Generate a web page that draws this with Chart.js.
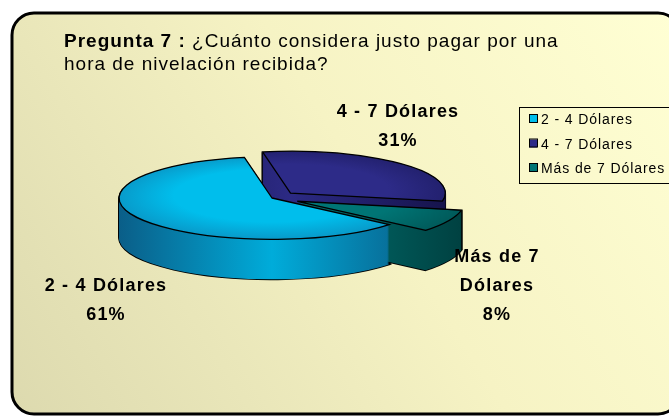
<!DOCTYPE html>
<html><head><meta charset="utf-8">
<style>html,body{margin:0;padding:0;background:#fff;}#wrap{width:669px;height:416px;position:relative;}canvas{display:block;}</style>
<script src="https://cdn.jsdelivr.net/npm/chart.js@4"></script>
</head><body>
<div id="wrap"><canvas id="c" width="669" height="416"></canvas></div>
<script>
// ---- data ----
const categories = ['2 - 4 Dólares', '4 - 7 Dólares', 'Más de 7 Dólares'];
const sliceLabels = [['2 - 4 Dólares'], ['4 - 7 Dólares'], ['Más de 7', 'Dólares']];
const percentages = [61, 31, 8];
const titleBold = 'Pregunta 7 :';
const titleRest = ' ¿Cuánto considera justo pagar por una';
const titleLine2 = 'hora de nivelación recibida?';

// ---- styles ----
const topColors = ['#00BEEC', '#2D2B88', '#007575'];
const topDark = ['#0A90C0', '#201E68', '#005A5A'];
const sideMid = ['#00ACDA', '#2C2A84', '#007272'];
const sideDark = ['#0A5E88', '#16144C', '#004040'];
const explode = [0, 104, 112];
const TILT = 0.27, DEPTH = 40, FONT = 'Arial, "Liberation Sans", sans-serif';
const labelPos = [[106, 284], [398, 110], [497, 255]];

function geom(arc) {
  const p = arc.getProps(['x', 'y', 'startAngle', 'endAngle', 'outerRadius', 'circumference'], true);
  const off = (arc.options.offset || 0) / 4;
  const half = (p.startAngle + p.endAngle) / 2;
  const fix = 1 - Math.sin(Math.min(Math.PI, p.circumference || 0));
  return { x: p.x + Math.cos(half) * off, y: p.y + Math.sin(half) * off, r: p.outerRadius + off * fix, s: p.startAngle, e: p.endAngle };
}
function tiltAround(ctx, cx, cy) { ctx.translate(cx, cy); ctx.scale(1, TILT); ctx.translate(-cx, -cy); }
function wedgePath(ctx, g, cx, cy, dy) {
  ctx.save();
  ctx.translate(0, dy);
  tiltAround(ctx, cx, cy);
  ctx.beginPath();
  ctx.moveTo(g.x, g.y);
  ctx.arc(g.x, g.y, g.r, g.s, g.e);
  ctx.closePath();
  ctx.restore();
}
function centre(chart) {
  const a = chart.chartArea;
  return [(a.left + a.right) / 2, (a.top + a.bottom) / 2];
}

const bgPlugin = {
  id: 'bg',
  beforeDraw(chart) {
    const ctx = chart.ctx;
    ctx.save();
    const gr = ctx.createLinearGradient(669, 0, 0, 416);
    gr.addColorStop(0, '#FFFFD4');
    gr.addColorStop(0.45, '#F6F3C4');
    gr.addColorStop(1, '#DCD9AE');
    ctx.beginPath();
    ctx.roundRect(12, 13, 668, 401, 22);
    ctx.fillStyle = gr;
    ctx.fill();
    ctx.lineWidth = 3;
    ctx.strokeStyle = '#000';
    ctx.stroke();
    ctx.restore();
  }
};

const pie3d = {
  id: 'pie3d',
  beforeDatasetsDraw(chart) {
    const ctx = chart.ctx;
    const meta = chart.getDatasetMeta(0);
    const [cx, cy] = centre(chart);
    const gs = meta.data.map(geom);
    // silhouette outlines first
    ctx.save();
    ctx.lineWidth = 1.6;
    ctx.strokeStyle = '#000';
    for (let d = DEPTH; d >= 1; d--) {
      gs.forEach(g => { wedgePath(ctx, g, cx, cy, d); ctx.stroke(); });
    }
    // side fills
    for (let d = DEPTH; d >= 1; d--) {
      gs.forEach((g, i) => {
        wedgePath(ctx, g, cx, cy, d);
        const lg = ctx.createLinearGradient(g.x - g.r, 0, g.x + g.r, 0);
        lg.addColorStop(0, sideDark[i]);
        lg.addColorStop(0.5, sideMid[i]);
        lg.addColorStop(1, sideDark[i]);
        ctx.fillStyle = lg;
        ctx.fill();
      });
    }
    ctx.restore();
    ctx.save();
    tiltAround(ctx, cx, cy);
  },
  afterDatasetsDraw(chart) {
    const ctx = chart.ctx;
    ctx.restore();
    const meta = chart.getDatasetMeta(0);
    const [cx, cy] = centre(chart);
    ctx.save();
    ctx.lineWidth = 1.3;
    ctx.strokeStyle = '#000';
    meta.data.map(geom).forEach(g => { wedgePath(ctx, g, cx, cy, 0); ctx.stroke(); });
    ctx.restore();
  }
};

const textPlugin = {
  id: 'texts',
  afterDraw(chart) {
    const ctx = chart.ctx;
    ctx.save();
    ctx.fillStyle = '#000';
    ctx.textBaseline = 'alphabetic';
    // title
    ctx.textAlign = 'left';
    ctx.letterSpacing = '1px';
    ctx.font = 'bold 19px ' + FONT;
    ctx.fillText(titleBold, 64, 47);
    const w = ctx.measureText(titleBold).width;
    ctx.font = '19px ' + FONT;
    ctx.fillText(titleRest, 64 + w, 47);
    ctx.fillText(titleLine2, 64, 70);
    // slice labels
    ctx.textAlign = 'center';
    ctx.font = 'bold 18px ' + FONT;
    ctx.letterSpacing = '1.2px';
    sliceLabels.forEach((lines, i) => {
      const all = lines.concat([percentages[i] + '%']);
      const [x, y] = labelPos[i];
      all.forEach((t, k) => ctx.fillText(t, x, y + 7 + k * 29));
    });
    // legend
    ctx.letterSpacing = '0.9px';
    ctx.textAlign = 'left';
    ctx.lineWidth = 1;
    ctx.strokeStyle = '#000';
    ctx.strokeRect(519.5, 107.5, 160, 76);
    ctx.font = '14px ' + FONT;
    categories.forEach((c, i) => {
      const y = 119 + i * 24.5;
      ctx.fillStyle = topColors[i];
      ctx.fillRect(529, y - 4, 8, 8);
      ctx.strokeRect(529.5, y - 4.5, 8, 8);
      ctx.fillStyle = '#000';
      ctx.fillText(c, 541, y + 5);
    });
    ctx.restore();
  }
};

new Chart(document.getElementById('c'), {
  type: 'pie',
  data: {
    labels: categories,
    datasets: [{
      data: percentages,
      backgroundColor: (c) => {
        const ch = c.chart, a = ch.chartArea, i = c.dataIndex;
        if (!a) return topColors[i];
        const cx = (a.left + a.right) / 2, cy = (a.top + a.bottom) / 2;
        const g = ch.ctx.createRadialGradient(cx, cy - 20, 10, cx, cy, 170);
        g.addColorStop(0, topColors[i]);
        g.addColorStop(0.55, topColors[i]);
        g.addColorStop(1, topDark[i]);
        return g;
      },
      borderWidth: 0,
      offset: explode,
      clip: false
    }]
  },
  options: {
    responsive: false,
    animation: false,
    radius: 153,
    rotation: 130,
    layout: { padding: { left: 100, right: 225, top: 30, bottom: 50 } },
    plugins: { legend: { display: false }, tooltip: { enabled: false }, title: { display: false } },
    events: []
  },
  plugins: [bgPlugin, pie3d, textPlugin]
});
</script>
</body></html>
